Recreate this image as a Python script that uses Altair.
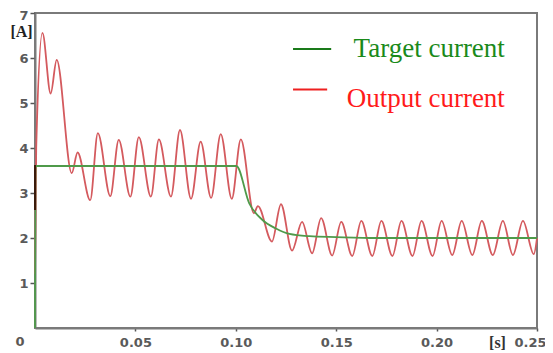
import altair as alt
import pandas as pd

# Output current: extremes (time in s, current in A)
out_t = [0, 0.0006, 0.0037, 0.0078, 0.0108, 0.0183, 0.0212,
         0.0275, 0.0313, 0.0375, 0.0417, 0.0475, 0.0517, 0.0577, 0.0617, 0.0677, 0.0722,
         0.0777, 0.0825, 0.0877, 0.0925, 0.098, 0.1025,
         0.109, 0.111, 0.118, 0.1225, 0.128, 0.133, 0.138, 0.1425, 0.148, 0.1525,
         0.158, 0.1625, 0.168, 0.1725, 0.178, 0.1825, 0.188, 0.1925, 0.198, 0.2025,
         0.2078, 0.2125, 0.2178, 0.2225, 0.228, 0.233, 0.238, 0.243, 0.2484, 0.25]
out_v = [1.2, 4.0, 6.56, 5.21, 5.96, 3.44, 3.90,
         2.84, 4.33, 2.93, 4.18, 2.92, 4.24, 2.92, 4.19, 2.92, 4.40,
         2.87, 4.14, 2.89, 4.31, 2.87, 4.19,
         2.55, 2.71, 1.92, 2.75, 1.72, 2.36, 1.66, 2.44, 1.61, 2.36,
         1.60, 2.38, 1.60, 2.38, 1.60, 2.38, 1.60, 2.38, 1.60, 2.38,
         1.62, 2.38, 1.62, 2.38, 1.62, 2.38, 1.62, 2.38, 1.64, 2.0]

# Target current
tgt_t = [0, 0.0003, 0.1003, 0.1067, 0.1133, 0.12, 0.1267, 0.1367, 0.15, 0.17, 0.25]
tgt_v = [0, 3.6, 3.6, 2.77, 2.40, 2.21, 2.09, 2.04, 2.02, 2.0, 2.0]

# dark overlap segment at t = 0
dark_t = [0, 0]
dark_v = [2.62, 3.62]

# legend entries (placed in data units)
leg_labels = ["Target current", "Output current"]
leg_colors = ["#1a8a1a", "#ff1a1a"]
leg_line_colors = ["#1a7a1a", "#ee2020"]
leg_text_t = [0.234, 0.234]
leg_text_v = [6.02, 4.91]
leg_line_t1 = [0.1285, 0.1285]
leg_line_t2 = [0.1475, 0.1455]
leg_line_v = [6.2, 5.30]

# origin label
origin_label = ["0"]
origin_t = [0.0]
origin_v = [0.0]
origin_color = ["#5c5854"]

x_ticks = [0.05, 0.10, 0.15, 0.20, 0.25]
y_ticks = [1, 2, 3, 4, 5, 6, 7]

out_df = pd.DataFrame({"t": out_t, "v": out_v})
tgt_df = pd.DataFrame({"t": tgt_t, "v": tgt_v})
dark_df = pd.DataFrame({"t": dark_t, "v": dark_v})
leg_text_df = pd.DataFrame({"t": leg_text_t, "v": leg_text_v, "label": leg_labels, "c": leg_colors})
leg_line_df = pd.DataFrame({"t": leg_line_t1, "t2": leg_line_t2, "v": leg_line_v, "c": leg_line_colors})
origin_df = pd.DataFrame({"t": origin_t, "v": origin_v, "label": origin_label, "c": origin_color})

xscale = alt.Scale(domain=[0, 0.25], nice=False)
yscale = alt.Scale(domain=[0, 7], nice=False)

x_axis = alt.Axis(
    values=x_ticks,
    format=".2f",
    labelFlush=False,
    labelAlign={"condition": {"test": "datum.value >= 0.25", "value": "right"}, "value": "center"},
    labelOffset={"condition": {"test": "datum.value >= 0.25", "value": 9}, "value": 0},
    grid=False,
    tickSize=3,
    title="[s]",
    titleAngle=0,
    titleX=462,
    titleY=14,
    titleAlign="center",
    titleBaseline="middle",
    titleFont="Liberation Serif",
    titleFontWeight="bold",
    titleFontSize=16,
    titleColor="#333333",
    labelPadding=5,
)
y_axis = alt.Axis(
    values=y_ticks,
    grid=False,
    tickSize=5,
    labelOffset={"condition": {"test": "datum.value >= 7", "value": 2}, "value": 0},
    labelPadding=2,
    title="[A]",
    titleAngle=0,
    titleX=-14,
    titleY=18,
    titleAlign="center",
    titleBaseline="middle",
    titleFont="Liberation Serif",
    titleFontWeight="bold",
    titleFontSize=16,
    titleColor="#222222",
)

out_line = alt.Chart(out_df).mark_line(
    color="#d45a5e", strokeWidth=1.8, interpolate="monotone"
).encode(
    x=alt.X("t:Q", scale=xscale, axis=x_axis),
    y=alt.Y("v:Q", scale=yscale, axis=y_axis),
)

tgt_line = alt.Chart(tgt_df).mark_line(
    color="#4f9a4a", strokeWidth=1.8, interpolate="monotone"
).encode(x="t:Q", y="v:Q")

dark_line = alt.Chart(dark_df).mark_line(color="#3a1a0a", strokeWidth=2).encode(x="t:Q", y="v:Q")

leg_lines = alt.Chart(leg_line_df).mark_rule(strokeWidth=2).encode(
    x="t:Q", x2="t2:Q", y="v:Q", color=alt.Color("c:N", scale=None)
)
leg_text = alt.Chart(leg_text_df).mark_text(
    font="Liberation Serif", fontSize=27, align="right", baseline="alphabetic"
).encode(x="t:Q", y="v:Q", text="label:N", color=alt.Color("c:N", scale=None))

origin_text = alt.Chart(origin_df).mark_text(
    font="DejaVu Sans", fontSize=13, fontWeight="bold", dx=-15, dy=14
).encode(x="t:Q", y="v:Q", text="label:N", color=alt.Color("c:N", scale=None))

chart = alt.layer(out_line, tgt_line, dark_line, leg_lines, leg_text, origin_text).properties(
    width=502,
    height=315,
    padding={"left": 27, "top": 5, "right": 8, "bottom": 24},
    autosize=alt.AutoSizeParams(type="none"),
    background="white",
).configure_view(
    stroke="#7a7a7a", strokeWidth=2
).configure_axis(
    domainColor="#7a7a7a",
    domainWidth=2,
    tickColor="#555555",
    tickWidth=1.5,
    labelFont="DejaVu Sans",
    labelFontSize=13,
    labelFontWeight="bold",
    labelColor="#5a5a5a",
)

chart.save("out.html", embed_options={"renderer": "svg", "actions": False})
